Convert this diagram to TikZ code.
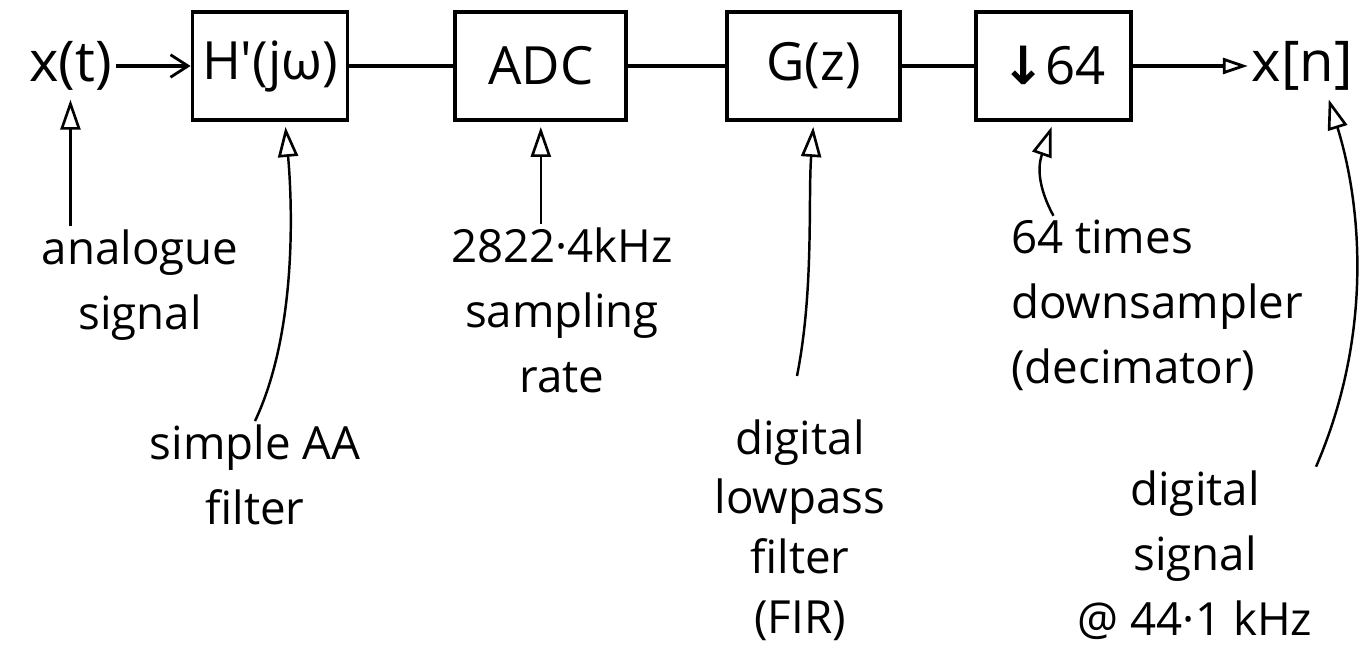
\documentclass[tikz,border=0pt]{standalone}
\usepackage{fontspec}
\setmainfont{Open Sans}
\newfontfamily\symfont{DejaVu Sans}
\usetikzlibrary{arrows.meta, positioning}

\begin{document}
\begin{tikzpicture}[
  x=0.02cm, y=-0.02cm,
  block/.style={
    rectangle,
    draw=black,
    line width=2.2pt,
    minimum height=2.15cm,
    align=center,
    font=\fontsize{30}{36}\selectfont
  },
  sig/.style={font=\fontsize{32}{38}\selectfont, inner sep=2pt},
  note/.style={align=center, font=\fontsize{26}{37}\selectfont, inner sep=2pt},
  wire/.style={line width=1.9pt, draw=black},
  flow/.style={wire, -{Straight Barb[length=3.5mm, width=4.5mm, line width=1.6pt]}},
  outflow/.style={wire, -{Triangle[open, length=5mm, width=3.2mm, line width=1.6pt]}},
  pointer/.style={line width=1.4pt, shorten >=3pt,
    -{Triangle[open, length=6mm, width=4mm, line width=1.5pt]}}
]
\useasboundingbox (0,0) rectangle (1365,658);

% signal chain
\node[block, minimum width=3.1cm] (hfilt) at (270,66) {H\textquotesingle(jω)};
\node[sig, left=1.5cm of hfilt] (xt) {x(t)};
\node[block, minimum width=3.42cm, right=2.08cm of hfilt] (adc) {ADC};
\node[block, minimum width=3.46cm, right=1.94cm of adc] (gz) {G(z)};
\node[block, minimum width=3.1cm, right=1.44cm of gz] (down) {{\symfont\bfseries ↓}64};
\node[sig, right=2.3cm of down] (xn) {x[n]};

\draw[flow] (xt) -- (hfilt);
\draw[wire] (hfilt) -- (adc);
\draw[wire] (adc) -- (gz);
\draw[wire] (gz) -- (down);
\draw[outflow] (down) -- (xn);

% notes underneath
\node[note] (analog) at (140,285) {analogue\\signal};
\node[note] (aafilt) at (255,475) {simple AA\\filter};
\node[note] (adcnote) at (562,310) {2822·4kHz\\sampling\\rate};
\node[note, font=\fontsize{26}{34}\selectfont] (gznote) at (800,530) {digital\\lowpass\\filter\\(FIR)};
\node[note, align=left] (downnote) at (1157,305) {64 times\\downsampler\\(decimator)};
\node[note] (sigout) at (1195,555) {digital\\signal\\@ 44·1 kHz};
\coordinate (gzfoot) at (797,376);

\draw[pointer] (analog.north -| xt) -- (xt.south);
\draw[pointer] (aafilt.north) .. controls (298,330) and (292,200) .. ([xshift=0.3cm]hfilt.south);
\draw[pointer] (adcnote.north -| adc.south) -- (adc.south);
\draw[pointer] (gzfoot) .. controls (814,290) and (808,200) .. (gz.south);
\draw[pointer] (down.south |- downnote.north) .. controls (1034,180) and (1040,160) .. (down.south);
\draw[pointer] (sigout.north east) .. controls (1375,330) and (1360,200) .. ([xshift=0.5cm]xn.south);
\end{tikzpicture}
\end{document}
